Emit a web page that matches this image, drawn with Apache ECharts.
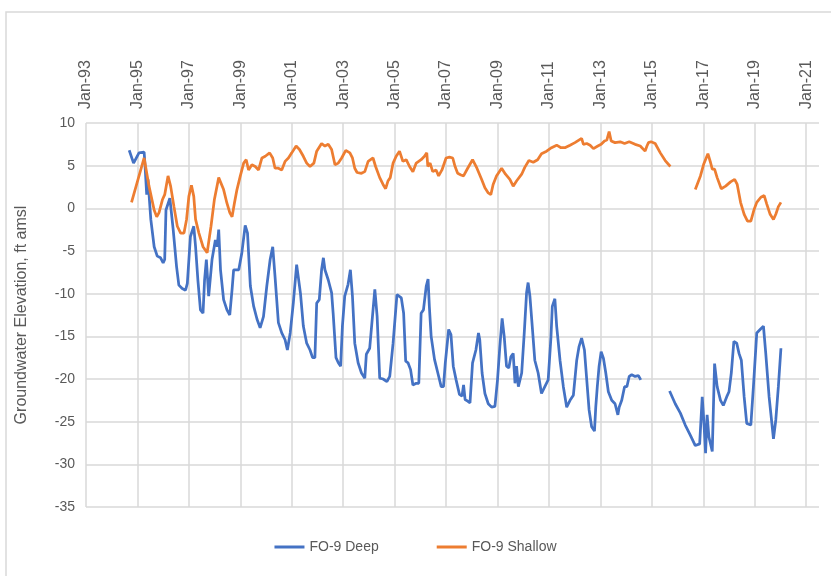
<!DOCTYPE html>
<html>
<head>
<meta charset="utf-8">
<script src="https://cdn.jsdelivr.net/npm/echarts@6/dist/echarts.min.js"></script>
<style>
html,body{margin:0;padding:0;background:#fff;}
#chart{width:831px;height:576px;}
</style>
</head>
<body>
<div id="chart"></div>
<script>
// X tick labels (every 2 years, Jan)
const xTickLabels = ['Jan-93','Jan-95','Jan-97','Jan-99','Jan-01','Jan-03','Jan-05','Jan-07','Jan-09','Jan-11','Jan-13','Jan-15','Jan-17','Jan-19','Jan-21'];
const yTickValues = [10, 5, 0, -5, -10, -15, -20, -25, -30, -35];

// FO-9 Deep (decimal year, ft amsl); null = data gap
const deepYears = [
1994.68,1994.85,1995.06,1995.26,1995.29,1995.36,1995.41,1995.52,1995.65,1995.77,1995.90,1996.00,1996.06,1996.11,1996.26,1996.39,1996.52,1996.61,1996.74,1996.87,1996.94,
1997.06,1997.19,1997.26,1997.35,1997.45,1997.55,1997.61,1997.68,1997.77,1997.90,1998.03,1998.10,1998.16,1998.23,1998.35,1998.48,1998.59,1998.68,1998.74,1998.94,
1999.06,1999.19,1999.28,1999.39,1999.52,1999.65,1999.77,1999.90,2000.03,2000.16,2000.26,2000.35,2000.48,2000.61,2000.74,2000.83,2000.94,2001.06,2001.19,2001.25,2001.34,
2001.45,2001.58,2001.71,2001.81,2001.90,2001.97,2002.07,2002.16,2002.23,2002.29,2002.42,2002.55,2002.61,2002.72,2002.81,2002.90,2002.97,2003.06,2003.19,2003.28,2003.36,
2003.45,2003.58,2003.71,2003.84,2003.90,2004.03,2004.23,2004.32,2004.42,2004.55,2004.70,2004.81,2004.94,2005.09,2005.26,2005.35,2005.43,2005.52,2005.62,2005.71,2005.84,
2005.94,2006.03,2006.12,2006.23,2006.30,2006.35,2006.42,2006.55,2006.68,2006.81,2006.90,2006.97,2007.10,2007.19,2007.28,2007.39,2007.52,2007.62,2007.68,2007.74,2007.84,
2007.93,2008.03,2008.16,2008.26,2008.31,2008.40,2008.51,2008.64,2008.77,2008.90,2009.00,2009.09,2009.18,2009.26,2009.35,2009.44,2009.52,2009.61,2009.68,2009.74,2009.81,
2009.87,2009.94,2010.04,2010.13,2010.19,2010.26,2010.35,2010.45,2010.58,2010.71,2010.84,2010.97,2011.08,2011.13,2011.23,2011.30,2011.43,2011.56,2011.69,2011.82,2011.95,
2012.08,2012.17,2012.27,2012.38,2012.47,2012.56,2012.66,2012.77,2012.82,2012.88,2012.95,2013.03,2013.12,2013.21,2013.31,2013.44,2013.57,2013.68,2013.73,2013.83,2013.94,
2014.03,2014.12,2014.22,2014.35,2014.48,2014.57,2015.10,
2015.69,2015.91,2016.11,2016.30,2016.50,2016.69,2016.86,2016.96,2017.02,2017.09,2017.15,2017.22,2017.35,2017.44,2017.54,2017.67,2017.78,2017.91,2018.00,2018.09,2018.19,
2018.30,2018.39,2018.48,2018.59,2018.69,2018.85,2018.95,2019.08,2019.21,2019.34,2019.43,2019.56,2019.73,2019.82,2019.92,2020.02
];
const deepVals = [
6.8,5.3,6.5,6.6,5.3,1.6,3.4,-1.3,-4.5,-5.6,-5.8,-6.4,-6.0,-0.2,1.2,-2.5,-6.8,-9.0,-9.4,-9.6,-8.8,
-3.3,-2.1,-4.5,-8.4,-11.9,-12.3,-8.4,-6.0,-10.3,-6.0,-3.7,-4.5,-2.5,-7.2,-10.7,-11.9,-12.5,-9.5,-7.2,-7.2,
-5.2,-2.0,-2.9,-9.1,-11.5,-13.0,-14.0,-12.7,-9.1,-6.0,-4.5,-8.0,-13.4,-14.6,-15.4,-16.6,-14.6,-11.1,-6.6,-6.4,-10.0,
-13.8,-15.8,-16.6,-17.5,-17.5,-11.1,-10.7,-7.2,-5.8,-7.2,-8.4,-9.9,-12.3,-17.5,-18.1,-18.5,-13.8,-10.3,-8.9,-7.2,-10.3,
-15.8,-18.1,-19.3,-19.9,-17.1,-16.4,-9.5,-12.7,-19.9,-20.0,-20.3,-19.7,-15.8,-10.1,-10.5,-12.3,-17.9,-18.1,-18.9,-20.7,-20.5,
-20.5,-12.3,-11.9,-9.1,-8.3,-11.5,-15.0,-17.7,-19.3,-20.9,-20.9,-18.1,-14.2,-14.8,-18.5,-20.1,-21.8,-22.0,-20.7,-22.4,-22.6,
-22.8,-18.1,-16.6,-14.6,-15.4,-19.3,-21.7,-22.9,-23.3,-23.2,-20.1,-16.2,-12.9,-15.0,-18.5,-18.7,-17.4,-17.0,-20.5,-18.5,-20.9,
-21.1,-19.3,-14.6,-9.9,-8.7,-10.3,-13.8,-17.8,-19.3,-21.7,-20.9,-20.1,-15.0,-11.5,-10.6,-13.8,-17.8,-20.9,-23.3,-22.5,-21.9,
-17.8,-16.2,-15.2,-16.6,-20.1,-23.6,-25.6,-26.1,-23.3,-20.9,-18.5,-16.8,-17.6,-19.3,-21.5,-22.5,-22.9,-24.2,-23.3,-22.5,-20.9,
-20.9,-19.7,-19.5,-19.7,-19.6,-20.1,null,
-21.4,-22.9,-24.0,-25.4,-26.6,-27.8,-27.6,-22.1,-24.8,-28.7,-24.2,-26.8,-28.5,-18.2,-20.9,-22.5,-23.1,-22.1,-21.5,-19.3,-15.6,
-15.8,-17.0,-17.8,-22.1,-25.2,-25.4,-20.9,-14.6,-14.2,-13.8,-17.0,-22.1,-27.0,-24.8,-20.9,-16.4
];

// FO-9 Shallow (decimal year, ft amsl); null = data gap
const shallowYears = [
1994.77,1995.26,1995.32,1995.45,1995.65,1995.75,1995.84,1995.97,1996.06,1996.19,1996.29,1996.42,1996.55,1996.68,1996.81,1996.91,1997.00,1997.10,1997.19,1997.26,1997.39,
1997.55,1997.71,1997.77,1997.86,1997.99,1998.16,1998.23,1998.35,1998.48,1998.59,1998.68,1998.77,1998.87,1999.00,1999.13,1999.23,1999.32,1999.45,1999.58,1999.71,
1999.84,1999.97,2000.14,2000.26,2000.35,2000.48,2000.61,2000.74,2000.87,2001.00,2001.17,2001.30,2001.45,2001.58,2001.71,2001.86,2001.97,2002.16,2002.29,2002.42,
2002.55,2002.68,2002.81,2002.94,2003.10,2003.26,2003.36,2003.45,2003.54,2003.71,2003.84,2003.97,2004.16,2004.26,2004.42,2004.55,2004.65,2004.74,2004.83,2004.94,
2005.06,2005.19,2005.32,2005.45,2005.58,2005.71,2005.84,2006.03,2006.16,2006.25,2006.29,2006.38,2006.48,2006.61,2006.71,2006.84,2007.00,2007.13,2007.26,2007.35,
2007.45,2007.58,2007.68,2007.84,2008.03,2008.20,2008.38,2008.51,2008.64,2008.74,2008.83,2008.96,2009.16,2009.31,2009.48,2009.61,2009.74,2009.94,2010.06,2010.22,
2010.39,2010.56,2010.71,2010.91,2011.10,2011.30,2011.47,2011.62,2011.82,2012.01,2012.27,2012.34,2012.47,2012.60,2012.73,2012.90,2013.03,2013.16,2013.25,2013.34,
2013.42,2013.57,2013.77,2013.94,2014.12,2014.35,2014.55,2014.74,2014.81,2014.87,2014.97,2015.13,2015.33,2015.52,2015.72,2016.20,
2016.69,2016.89,2017.02,2017.18,2017.28,2017.35,2017.44,2017.54,2017.70,2017.87,2018.06,2018.22,2018.32,2018.45,2018.59,2018.72,2018.85,2018.98,2019.08,2019.24,
2019.37,2019.47,2019.60,2019.73,2019.82,2019.92,2020.02
];
const shallowVals = [
0.7,5.9,5.7,2.6,-0.2,-1.0,-0.5,1.0,1.6,3.8,2.6,0.2,-2.1,-2.9,-2.9,-1.3,1.4,2.7,1.4,-1.3,-2.9,
-4.5,-5.2,-5.0,-2.1,1.0,3.6,3.8,2.2,0.6,-0.5,-1.0,0.6,2.2,3.8,5.3,5.7,4.5,5.1,4.9,4.5,
5.9,6.1,6.5,5.9,4.7,4.7,4.5,5.5,5.9,6.5,7.3,6.9,6.1,5.3,4.9,5.3,6.7,7.6,7.3,7.5,
6.9,5.1,5.3,5.9,6.8,6.5,5.9,4.7,4.2,4.1,4.3,5.5,5.9,4.9,3.6,2.8,2.3,3.2,3.6,5.3,
6.1,6.7,5.5,5.7,4.9,4.3,5.3,5.7,6.1,6.5,4.9,5.3,4.3,4.5,3.8,4.5,5.9,6.0,5.9,4.9,
4.1,3.9,3.8,4.7,5.7,4.7,3.4,2.4,1.8,1.6,2.8,3.8,4.7,4.0,3.4,2.6,3.2,4.0,4.8,5.6,
5.4,5.7,6.4,6.7,7.1,7.4,7.1,7.1,7.4,7.7,8.2,7.5,7.6,7.4,7.0,7.3,7.5,7.9,8.0,9.0,
7.9,7.7,7.8,7.6,7.8,7.5,7.3,6.7,7.3,7.7,7.8,7.6,6.5,5.6,4.9,null,
2.2,3.8,5.2,6.4,5.4,4.6,4.6,3.6,2.3,2.6,3.1,3.4,2.8,0.7,-0.7,-1.5,-1.5,-0.1,0.7,1.3,
1.5,0.5,-0.7,-1.3,-0.7,0.2,0.7
];

const deepData = deepYears.map((x, i) => [x, deepVals[i]]);
const shallowData = shallowYears.map((x, i) => [x, shallowVals[i]]);

const grey = '#595959';
const gridColor = '#d9d9d9';
const font = "'Liberation Sans', Arial, sans-serif";

const chart = echarts.init(document.getElementById('chart'), null, {renderer: 'canvas'});
chart.setOption({
  animation: false,
  backgroundColor: '#ffffff',
  graphic: [{
    type: 'rect', z: -10,
    shape: {x: 6, y: 12, width: 840, height: 600},
    style: {fill: 'none', stroke: gridColor, lineWidth: 1.5}
  }],
  grid: {left: 86, right: 12, top: 123, bottom: 69, containLabel: false},
  legend: {
    bottom: 17, left: 'center',
    itemWidth: 30, itemHeight: 3, itemGap: 58, icon: 'rect',
    textStyle: {color: grey, fontSize: 14, fontFamily: font},
    data: ['FO-9 Deep', 'FO-9 Shallow']
  },
  xAxis: {
    type: 'value', position: 'top',
    min: 1993, max: 2021.5, interval: 2,
    axisLine: {show: false}, axisTick: {show: false},
    axisLabel: {
      rotate: 90, margin: 14, color: grey, fontSize: 16, fontFamily: font,
      formatter: function (v) {
        const idx = (v - 1993) / 2;
        return Number.isInteger(Math.round(idx * 1000) / 1000) && xTickLabels[idx] ? xTickLabels[idx] : '';
      }
    },
    splitLine: {show: true, showMaxLine: false, lineStyle: {color: gridColor, width: 1.5}}
  },
  yAxis: {
    type: 'value', min: -35, max: 10, interval: 5,
    name: 'Groundwater Elevation, ft amsl', nameLocation: 'middle', nameGap: 56, nameRotate: 90,
    nameTextStyle: {color: grey, fontSize: 16, fontFamily: font},
    axisLine: {show: false}, axisTick: {show: false},
    axisLabel: {margin: 11, color: grey, fontSize: 14, fontFamily: font,
      formatter: v => yTickValues.includes(v) ? String(v) : ''},
    splitLine: {show: true, lineStyle: {color: gridColor, width: 1.5}}
  },
  series: [
    {name: 'FO-9 Deep', type: 'line', data: deepData, showSymbol: false, connectNulls: false,
     color: '#4472C4', lineStyle: {width: 2.75, color: '#4472C4'}},
    {name: 'FO-9 Shallow', type: 'line', data: shallowData, showSymbol: false, connectNulls: false,
     color: '#ED7D31', lineStyle: {width: 2.75, color: '#ED7D31'}}
  ]
});
</script>
</body>
</html>
